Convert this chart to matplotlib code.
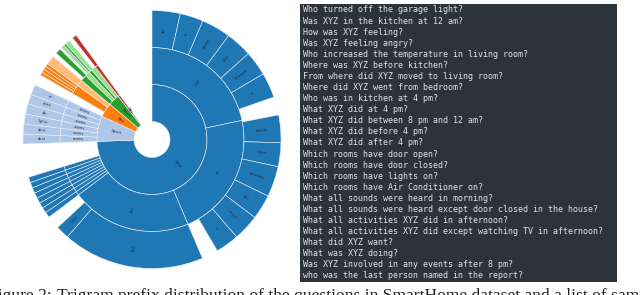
"""
Trigram prefix sunburst of SmartHome questions + list of sample questions
"""

import numpy as np
import matplotlib.pyplot as plt

# colours (tab20 pairs)
BLUE, LBLUE = '#1f77b4', '#aec7e8'
ORANGE, LORANGE = '#ff7f0e', '#ffbb78'
GREEN, LGREEN = '#2ca02c', '#98df8a'
RED = '#c4302b'

# ring 1 - first word (values in degrees, drawn clockwise from 12 o'clock)
ring1_vals = [268, 27, 15, 12, 2, 36]
ring1_cols = [BLUE, LBLUE, ORANGE, GREEN, RED, None]
ring1_labels = ['What', 'Which', 'Who', 'Where', 'Was', '']

# ring 2 - second word
ring2_vals = [78, 79, 76,
              2.5, 2.5, 2.5, 2.5, 2.5, 2.5, 2.5, 2.5, 15,
              4.5, 4.5, 4.5, 4.5, 4.5, 4.5,
              5, 6, 4,
              4, 3, 2, 3,
              2, 36]
ring2_cols = [BLUE, BLUE, BLUE,
              BLUE, BLUE, BLUE, BLUE, BLUE, BLUE, BLUE, BLUE, None,
              LBLUE, LBLUE, LBLUE, LBLUE, LBLUE, LBLUE,
              None, ORANGE, LORANGE,
              GREEN, LGREEN, GREEN, LGREEN,
              RED, None]
ring2_labels = ['XYZ', 'all', 'did',
                '', '', '', '', '', '', '', '', '',
                'rooms', 'rooms', 'rooms', 'rooms', 'rooms', 'rooms',
                '', '', '', '', '', '', '', '', '']

# ring 3 - third word
ring3_vals = [12.7, 10.5, 13.2, 11.9, 11.2, 11.3, 7.2,
              1, 12.4, 10.8, 13.8, 11.2, 11.8, 10.6, 7.4,
              64, 6, 6,
              2.5, 2.5, 2.5, 2.5, 2.5, 2.5, 2.5, 2.5, 15,
              4.5, 4.5, 4.5, 4.5, 4.5, 4.5,
              5, 1.5, 1.5, 1.5, 1.5, 4,
              2, 2.5, 1, 1.5, 1, 2, 2,
              2, 36]
ring3_cols = [BLUE, BLUE, BLUE, BLUE, BLUE, BLUE, None,
              None, BLUE, BLUE, BLUE, BLUE, BLUE, BLUE, None,
              BLUE, BLUE, None,
              BLUE, BLUE, BLUE, BLUE, BLUE, BLUE, BLUE, BLUE, None,
              LBLUE, LBLUE, LBLUE, LBLUE, LBLUE, LBLUE,
              None, ORANGE, ORANGE, ORANGE, ORANGE, LORANGE,
              None, GREEN, None, LGREEN, GREEN, LGREEN, None,
              RED, None]
ring3_labels = ['did', 'at', 'before', 'after', 'between', 'in', '',
                '', 'sounds', 'heard', 'activities', 'did', 'except', 'in', '',
                'XYZ', 'want', '',
                '', '', '', '', '', '', '', '', '',
                'door', 'door', 'lights', 'Air', 'open', 'on',
                '', '', '', '', '', '', '', '', '', '', '', '', '', '', '']

questions = [
    "Who turned off the garage light?",
    "Was XYZ in the kitchen at 12 am?",
    "How was XYZ feeling?",
    "Was XYZ feeling angry?",
    "Who increased the temperature in living room?",
    "Where was XYZ before kitchen?",
    "From where did XYZ moved to living room?",
    "Where did XYZ went from bedroom?",
    "Who was in kitchen at 4 pm?",
    "What XYZ did at 4 pm?",
    "What XYZ did between 8 pm and 12 am?",
    "What XYZ did before 4 pm?",
    "What XYZ did after 4 pm?",
    "Which rooms have door open?",
    "Which rooms have door closed?",
    "Which rooms have lights on?",
    "Which rooms have Air Conditioner on?",
    "What all sounds were heard in morning?",
    "What all sounds were heard except door closed in the house?",
    "What all activities XYZ did in afternoon?",
    "What all activities XYZ did except watching TV in afternoon?",
    "What did XYZ want?",
    "What was XYZ doing?",
    "Was XYZ involved in any events after 8 pm?",
    "who was the last person named in the report?",
]

caption_head = "Figure 2:"
caption_body = ("Trigram prefix distribution of the questions in SmartHome "
                "dataset and a list of sample questions.")

W, H = 640, 295
fig = plt.figure(figsize=(W / 100, H / 100), dpi=100)

# Sunburst panel (axes units are pixels)
cx, cy, half = 152, 139.5, 135
ax = fig.add_axes([(cx - half) / W, (H - cy - half) / H, 2 * half / W, 2 * half / H])

rings = [(ring1_vals, ring1_cols, ring1_labels, 55),
         (ring2_vals, ring2_cols, ring2_labels, 92),
         (ring3_vals, ring3_cols, ring3_labels, 129)]

for vals, cols, labels, radius in rings:
    wedges, _ = ax.pie(vals, colors=[c if c else 'white' for c in cols],
                       radius=radius, startangle=90, counterclock=False,
                       wedgeprops=dict(width=37, edgecolor='#e8f0f8', linewidth=0.4))
    for w, c, lab in zip(wedges, cols, labels):
        if c is None:
            w.set_visible(False)
            continue
        if lab:
            mid = np.deg2rad((w.theta1 + w.theta2) / 2)
            r = radius - 18.5
            rot = np.rad2deg(mid)
            if 90 < rot % 360 < 270:
                rot += 180
            ax.text(r * np.cos(mid), r * np.sin(mid), lab, fontsize=2.5,
                    color='#1b2a3a', ha='center', va='center', rotation=rot)

ax.set_xlim(-half, half)
ax.set_ylim(-half, half)
ax.set_aspect('equal')
ax.axis('off')

# Question list panel
bx0, bx1, by0, by1 = 300, 617, 4, 282
axq = fig.add_axes([bx0 / W, (H - by1) / H, (bx1 - bx0) / W, (by1 - by0) / H])
axq.set_facecolor('#2d333b')
axq.set_xticks([])
axq.set_yticks([])
for s in axq.spines.values():
    s.set_visible(False)
axq.set_xlim(bx0, bx1)
axq.set_ylim(by1, by0)
for i, q in enumerate(questions):
    axq.text(303, 10 + i * 11.08, q, fontsize=6.05, color='#e2e2e2',
             family='DejaVu Sans Mono', va='center', ha='left')

# caption, cut off by the bottom and side edges as in the source
fig.text(52 / W, (H - 300) / H, caption_head, fontsize=12.6, family='Liberation Serif',
         color='#222222', ha='right', va='baseline')
fig.text(57 / W, (H - 300) / H, caption_body, fontsize=12.6, family='Liberation Serif',
         color='#222222', ha='left', va='baseline')

fig.savefig('out.png', dpi=100)
